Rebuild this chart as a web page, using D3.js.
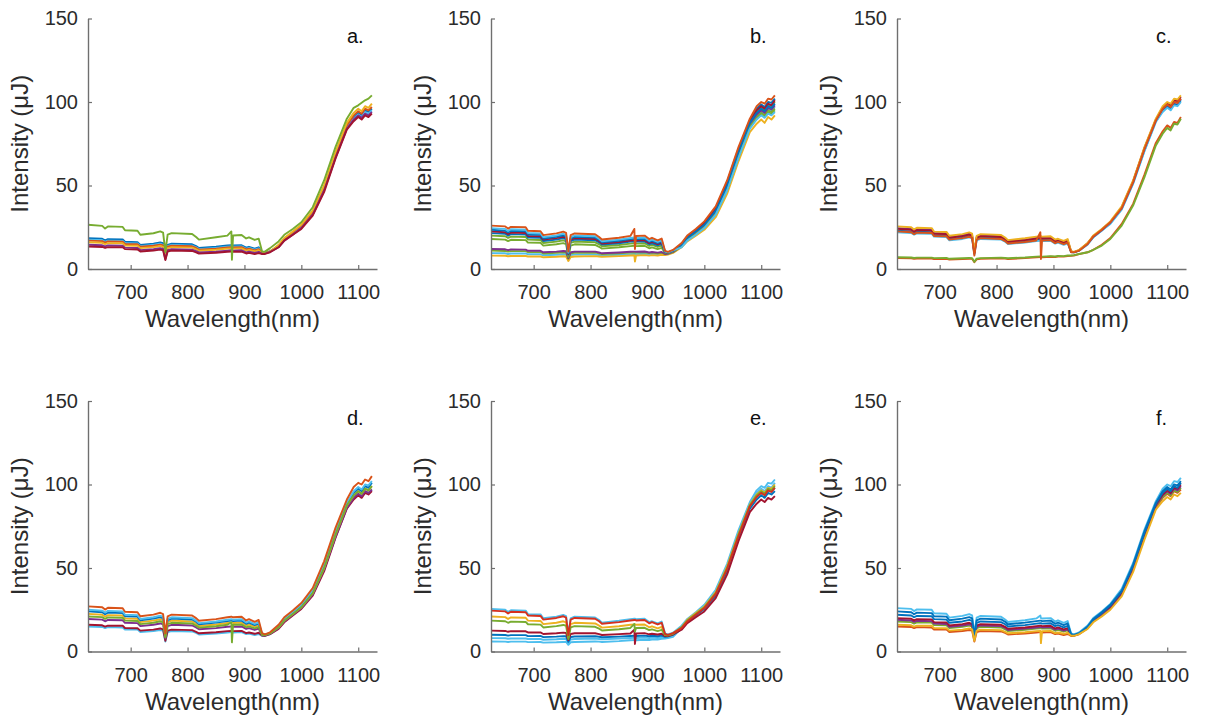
<!DOCTYPE html>
<html>
<head>
<meta charset="utf-8">
<script src="https://cdn.jsdelivr.net/npm/d3@7"></script>
<style>
  body { margin: 0; background: #fff; }
  svg { display: block; }
</style>
</head>
<body>
<svg id="chart" width="1205" height="723"></svg>
<script>
// Sampling wavelengths (nm) shared by every spectrum
const wavelengths = [625, 650, 655, 660, 686, 690, 712, 717, 740, 752, 757, 761, 765, 772, 808, 815, 820, 850, 870, 877,
  878, 880, 895, 903, 908, 918, 925, 931, 936, 945, 960, 970, 985, 1000, 1020, 1040, 1060, 1080, 1092, 1100,
  1106, 1112, 1118, 1124];

const xTicks = [700, 800, 900, 1000, 1100];
const yTicks = [0, 50, 100, 150];
const panelLabels = ["a.", "b.", "c.", "d.", "e.", "f."];

// ---- Panel a ----
const a1 = [18.5,18.1,17.2,17.9,17.7,16.3,16.1,14.4,15.2,15.9,15.4,7.4,14.4,15.2,14.8,13.7,12.6,13.3,14.1,14.2,14.2,14.1,14.2,12.8,13.3,12.2,13.0,9.8, 9.6,10.6, 13.5,17.5,21.5,25.5,33.5,48,68,85.5,91,93.5,92,95,94,96];
const a2 = [17,16.7,15.8,16.5,16.3,15.0,14.8,13.3,13.9,14.6,14.1,6.8,13.3,13.9,13.6,12.6,11.6,12.2,12.9,13.1,13.1,12.9,13.1,11.7,12.1,11.2,11.9,9.6, 9.5,10.5, 14,18,22,26,34,49,68.5,86,92,94.5,93,96,95,97];
const a3 = [16,15.7,14.9,15.5,15.4,14.1,13.9,12.5,13.1,13.8,13.3,6.4,12.5,13.1,12.8,11.8,10.9,11.5,12.2,12.3,12.3,12.2,12.3,11.0,11.4,10.6,11.2,9.5, 9.4,10.4, 14.5,18.5,22.5,26.5,35,50,70,87.5,93.5,96,94.5,97.5,96.5,99];
const a4 = [14.5,14.2,13.5,14.1,13.9,12.8,12.6,11.3,11.9,12.5,12.0,5.8,11.3,11.9,11.6,10.7,9.9,10.4,11.0,11.2,11.2,11.0,11.2,10.0,10.4,9.6,10.2,9.2, 9.2,10.2, 13,17,20.5,24.5,32.5,47,66.5,84,89.5,92,90.5,93,92,94];
const a5 = [26.5,25.8,24.2,25.5,25.2,23.2,22.9,20.5,21.4,22.5,21.8,10.2,20.6,21.5,21.0,19.2,17.6,19.0,20.0,22.5,5.5,20.1,20.4,18.3,19.0,17.4,18.2,10.5, 10.4,12.5, 16.5,20.5,24,28,37,53,73,90,96.5,98,99.5,101,102,104];
const a6 = [17.5,17.2,16.3,17.0,16.8,15.4,15.3,13.7,14.4,15.1,14.5,7.0,13.7,14.4,14.0,13.0,11.9,12.6,13.3,13.5,13.5,13.3,13.5,12.1,12.6,11.6,12.3,9.7, 9.6,10.6, 13.5,17.5,21,25,33,47.5,67,85,90,92.5,91,94,93,95];
const a7 = [13.5,13.2,12.6,13.1,13.0,11.9,11.7,10.5,11.1,11.6,11.2,5.4,10.5,11.1,10.8,10.0,9.2,9.7,10.3,10.4,10.4,10.3,10.4,9.3,9.7,8.9,9.5,9.0, 9.0,10.0, 13,17,20.5,24,32,46,66,83.5,88.5,91,89.5,92,91,93];

// ---- Panel b ----
const b1 = [23.5,23.0,21.9,22.8,22.6,20.7,20.5,18.3,19.3,20.2,19.5,9.4,18.3,19.3,18.8,17.4,16.0,16.9,17.9,18.1,18.1,17.9,18.1,16.3,16.9,15.5,16.5,10.3, 10.0,11.0, 14.5,18.5,22.5,26.5,35,50,70,87.5,93.5,96,94.5,97.5,96.5,99];
const b2 = [26,25.5,24.2,25.2,25.0,22.9,22.6,20.3,21.3,22.4,21.6,10.4,20.3,21.3,20.8,19.2,17.7,18.7,19.8,24.0,12.0,19.8,20.0,17.9,18.7,17.2,18.2,10.8, 10.2,11.4, 15.5,20,24,28.5,37.5,53,73,90,97.5,100,99,102,101.5,104];
const b3 = [8,7.9,7.6,7.8,7.8,7.5,7.5,7.0,7.3,7.6,7.5,4.8,7.2,7.5,7.7,7.5,7.3,7.7,8.1,8.2,4.5,8.1,8.3,8.0,8.3,8.1,8.5,8.4, 8.6,9.6, 13,16.5,20,23.5,31,45,64.5,82,87,89.5,87.5,91,89.5,92];
const b4 = [12,11.8,11.3,11.7,11.6,10.9,10.9,10.0,10.4,10.8,10.6,6.5,10.0,10.4,10.4,9.9,9.4,9.9,10.3,10.4,10.4,10.3,10.5,9.9,10.2,9.8,10.2,9.0, 9.2,10.2, 14,18,22,26,34.5,49.5,69,87,92.5,95,93.5,96.5,95.5,98];
const b5 = [20,19.6,18.6,19.4,19.2,17.6,17.4,15.6,16.4,17.2,16.6,8.0,15.6,16.4,16.0,14.8,13.6,14.4,15.2,15.4,15.4,15.2,15.4,13.8,14.4,13.2,14.0,10.0, 9.7,10.8, 14.5,19,23,27,35.5,51,70.5,88,94,96.5,95,98,97.5,100];
const b6 = [24.5,24.0,22.8,23.8,23.5,21.6,21.3,19.1,20.1,21.1,20.3,9.8,19.1,20.1,19.6,18.1,16.6,17.6,18.6,18.9,18.9,18.6,18.9,16.9,17.6,16.2,17.2,10.5, 10.0,11.2, 13,17,20.5,24.5,32.5,47,66.5,84,89.5,92,90.5,93,92,94];
const b7 = [22.5,22.0,20.9,21.8,21.6,19.8,19.6,17.6,18.5,19.3,18.7,9.0,17.6,18.5,18.0,16.7,15.3,16.2,17.1,17.3,17.3,17.1,17.3,15.5,16.2,14.9,15.8,10.2, 9.9,11.0, 15,19,23,27.5,36,51.5,71,88.5,95,97.5,96,99,98,101];
const b8 = [21.5,21.1,20.0,20.9,20.6,18.9,18.7,16.8,17.6,18.5,17.8,8.6,16.8,17.6,17.2,15.9,14.6,15.4,16.4,16.5,16.5,16.4,16.5,14.8,15.4,14.2,15.0,10.1, 9.8,10.9, 15,19.5,23.5,28,36.5,52,72,89,96,98.5,97,100,99.5,102];
const b9 = [11,10.8,10.4,10.7,10.7,10.1,10.1,9.3,9.7,10.0,9.9,6.2,9.4,9.7,9.8,9.4,9.0,9.4,9.8,9.9,9.9,9.8,10.0,9.5,9.8,9.4,9.8,8.9, 9.1,10.1, 13.5,17.5,21.5,25.5,33.5,48,68,85.5,91,93.5,92,95,94,96];
const b10 = [9.5,9.4,9.0,9.3,9.3,8.8,8.8,8.2,8.5,8.8,8.7,5.6,8.3,8.6,8.7,8.4,8.1,8.5,8.9,9.0,9.0,8.9,9.1,8.7,9.0,8.7,9.1,8.7, 8.9,9.9, 14,18,22,26,34,49,68.5,86,92,94.5,93,96,95,97];
const b11 = [18,17.6,16.7,17.5,17.3,15.8,15.7,14.0,14.8,15.5,14.9,7.2,14.0,14.8,14.4,13.3,12.2,13.0,13.7,13.9,13.9,13.7,13.9,12.4,13.0,11.9,12.6,9.8, 9.6,10.6, 13.5,17.5,21,25,33,47.5,67,85,90,92.5,91,94,93,95];

// ---- Panel c ----
const c1 = [23,22.5,21.4,22.3,22.1,20.2,20.0,17.9,18.9,19.8,19.1,9.2,17.9,18.9,18.4,17.0,15.6,16.6,17.5,17.7,17.7,17.5,17.7,15.9,16.6,15.2,16.1,10.2, 10.0,11.0, 15,19,23,27.5,36,51.5,71,88.5,95,97.5,96,99,98,101];
const c2 = [22.5,22.0,20.9,21.8,21.6,19.8,19.6,17.6,18.5,19.3,18.7,8.0,17.6,18.5,18.0,16.7,15.3,16.2,17.1,22.0,6.0,17.1,17.3,15.5,16.2,14.9,15.8,10.0, 10.0,11.0, 15,19.5,23.5,28,36.5,52,72,89,96,98.5,97,100,99.5,102];
const c3 = [25.5,25.0,23.7,24.7,24.5,22.4,22.2,19.9,20.9,21.9,21.2,10.2,19.9,20.9,20.4,18.9,17.3,18.4,19.4,19.6,19.6,19.4,19.6,17.6,18.1,16.8,17.9,10.7, 10.2,11.4, 15.5,20,24,28.5,37.5,53,73,90,97.5,100,99,102,101.5,104];
const c4 = [24.5,24.0,22.8,23.8,23.5,21.6,21.3,19.1,20.1,21.1,20.3,9.8,19.1,20.1,19.6,18.1,16.6,17.6,18.6,18.9,18.9,18.6,18.9,16.9,17.6,16.2,17.2,10.5, 10.1,11.2, 15,19.5,23.5,28,36.5,52,72,89,96,98.5,97,100,99.5,102];
const c5 = [7,6.9,6.6,6.8,6.8,6.5,6.6,6.1,6.4,6.6,6.5,4.3,6.2,6.5,6.8,6.6,6.4,6.9,7.4,7.5,7.5,7.4,7.7,7.5,7.8,7.7,8.1,8.1, 8.3,9.0, 10,11.5,14,18,26,38,55,74,81,84.5,83,87,86.5,90];
const c6 = [22,21.6,20.5,21.3,21.1,19.4,19.1,17.2,18.0,18.9,18.3,8.8,17.2,18.0,17.6,16.3,15.0,15.8,16.7,16.9,16.9,16.7,16.9,15.2,15.8,14.5,15.4,10.1, 9.9,10.9, 14.5,19,23,27,35.5,51,70.5,88,94,96.5,95,98,97.5,100];
const c7 = [6.5,6.4,6.1,6.3,6.3,6.0,6.1,5.7,5.9,6.1,6.1,4.1,5.8,6.1,6.4,6.2,6.0,6.5,7.0,7.1,7.1,7.0,7.3,7.2,7.5,7.4,7.8,7.9, 8.1,8.9, 10,11.5,14.5,18.5,27,39,56.5,75.5,82.5,86,84.5,88,87.5,91];
const c8 = [24,23.5,22.3,23.3,23.0,21.1,20.9,18.7,19.7,20.6,19.9,9.6,18.7,19.7,19.2,17.8,16.3,17.3,18.2,18.5,18.5,18.2,18.5,16.6,17.3,15.8,16.8,10.4, 10.1,11.2, 15.5,19.5,23.5,28,37,52.5,72.5,89.5,96.5,99,98,101,100.5,103];

// ---- Panel d ----
const dd1 = [24,23.5,22.3,23.3,23.0,21.1,20.9,18.7,19.7,20.6,19.9,9.6,18.7,19.7,19.2,17.8,16.3,17.3,18.2,18.5,18.5,18.2,18.5,16.6,17.3,15.8,16.8,10.4, 10.0,11.0, 15,19,23,27.5,36,51.5,71,88.5,95,97.5,96,99,98,101];
const dd2 = [27,26.5,25.1,26.2,25.9,23.8,23.5,21.1,22.1,23.2,22.4,10.8,21.1,22.1,21.6,20.0,18.4,19.4,20.5,20.8,20.8,20.5,20.8,18.6,19.4,17.8,18.9,11.0, 10.3,11.5, 16,20.5,24.5,29,38,54,74,91,98.5,101,100,103,102,105];
const dd3 = [22.5,22.0,20.9,21.8,21.6,19.8,19.6,17.6,18.5,19.3,18.7,9.0,17.6,18.5,18.0,16.7,15.3,16.2,17.1,17.3,17.3,17.1,17.3,15.5,16.2,14.9,15.8,10.2, 9.9,11.0, 14.5,18.5,22.5,26.5,35,50,70,87.5,93.5,96,94.5,97.5,96.5,99];
const dd4 = [19.5,19.1,18.1,18.9,18.7,17.2,17.0,15.2,16.0,16.8,16.2,7.8,15.2,16.0,15.6,14.4,13.3,14.0,14.8,15.0,15.0,14.8,15.0,13.5,14.0,12.9,13.7,9.9, 9.7,10.7, 14,18,22,26,34,49,68.5,86,92,94.5,93,96,95,97];
const dd5 = [21,20.6,19.5,20.4,20.2,18.5,18.3,16.4,17.2,18.1,17.4,8.4,16.4,17.2,16.8,15.5,14.3,15.1,16.0,17.5,5.5,16.0,16.2,14.5,15.1,13.9,14.7,10.0, 9.8,10.8, 14.5,18.5,22.5,26.5,35,50,70,87.5,93.5,96,94.5,97.5,96.5,99];
const dd6 = [25,24.5,23.3,24.3,24.0,22.0,21.8,19.5,20.5,21.5,20.8,10.0,19.5,20.5,20.0,18.5,17.0,18.0,19.0,19.3,19.3,19.0,19.3,17.3,18.0,16.5,17.5,10.6, 10.1,11.2, 15,19.5,23.5,28,36.5,52,72,89,96,98.5,97,100,99.5,102];
const dd7 = [16,15.7,14.9,15.5,15.4,14.1,13.9,12.5,13.1,13.8,13.3,6.4,12.5,13.1,12.8,11.8,10.9,11.5,12.2,12.3,12.3,12.2,12.3,11.0,11.4,10.6,11.2,9.5, 9.4,10.4, 13.5,17.5,21.5,25.5,33.5,48,68,85.5,91,93.5,92,95,94,96];
const dd8 = [15,14.7,14.0,14.6,14.4,13.2,13.1,11.7,12.3,12.9,12.5,6.0,11.7,12.3,12.0,11.1,10.2,10.8,11.4,11.6,11.6,11.4,11.6,10.4,10.8,9.9,10.5,9.3, 9.3,10.3, 14,18,22,26,34,49,68.5,86,92,94.5,93,96,95,97];

// ---- Panel e ----
const e1 = [25.5,25.0,23.7,24.7,24.5,22.4,22.2,19.9,20.9,21.9,21.2,10.2,19.9,20.9,20.4,18.9,17.3,18.4,19.4,19.6,19.6,19.4,19.6,17.6,18.1,16.8,17.9,10.7, 10.2,11.3, 15.5,19.5,23.5,28,37,52.5,72.5,89.5,96.5,99,98,101,100.5,103];
const e2 = [24.5,24.0,22.8,23.8,23.5,21.6,21.3,19.1,20.1,21.1,20.3,9.8,19.1,20.1,19.6,18.1,16.6,17.6,18.6,18.9,18.9,18.6,18.9,16.9,17.6,16.2,17.2,10.5, 10.0,11.0, 14,18,22,26,34.5,49.5,69,87,92.5,95,93.5,96.5,95.5,98];
const e3 = [21,20.6,19.5,20.4,20.2,18.5,18.3,16.4,17.2,18.1,17.4,8.4,16.4,17.2,16.8,15.5,14.3,15.1,16.0,16.2,16.2,16.0,16.2,14.5,15.1,13.9,14.7,10.0, 9.8,10.9, 14.5,19,23,27,35.5,51,70.5,88,94,96.5,95,98,97.5,100];
const e4 = [18.5,18.1,17.2,17.9,17.7,16.3,16.1,14.4,15.2,15.9,15.4,7.4,14.4,15.2,14.8,13.7,12.6,13.3,14.1,16.5,12.0,14.1,14.2,12.8,13.3,12.2,13.0,9.8, 9.6,10.6, 14.5,18.5,22.5,26.5,35,50,70,87.5,93.5,96,94.5,97.5,96.5,99];
const e5 = [12.5,12.3,11.8,12.2,12.1,11.4,11.4,10.5,10.9,11.3,11.1,6.8,10.5,10.9,10.9,10.4,9.9,10.4,10.8,13.0,4.5,10.8,11.0,10.3,10.6,10.2,10.6,9.2, 9.3,10.2, 13,17,20.5,24,32,46,66,83.5,88.5,91,89.5,92,91,93];
const e6 = [10,9.9,9.5,9.8,9.8,9.2,9.3,8.6,8.9,9.2,9.1,5.8,8.7,9.0,9.1,8.8,8.5,8.9,9.3,9.4,9.4,9.3,9.5,9.1,9.4,9.1,9.5,8.8, 9.0,10.0, 13.5,17.5,21.5,25.5,33.5,48,68,85.5,91,93.5,92,95,94,96];
const e7 = [8,7.9,7.6,7.8,7.8,7.5,7.5,7.0,7.3,7.6,7.5,4.8,7.2,7.5,7.7,7.5,7.3,7.7,8.1,8.2,8.2,8.1,8.3,8.0,8.3,8.1,8.5,8.4, 8.6,9.6, 14.5,18.5,22.5,27,35.5,51,71,88.5,95,97.5,96,99,98,101];
const e8 = [6,5.9,5.7,5.9,5.9,5.6,5.7,5.3,5.5,5.7,5.7,4.0,5.5,5.7,6.0,5.9,5.7,6.2,6.7,6.8,6.8,6.7,7.0,6.9,7.2,7.2,7.6,7.8, 8.0,8.8, 14,18,22,26,34.5,49.5,69,87,92.5,95,93.5,96.5,95.5,98];

// ---- Panel f ----
const f1 = [24,23.5,22.3,23.3,23.0,21.1,20.9,18.7,19.7,20.6,19.9,9.6,18.7,19.7,19.2,17.8,16.3,17.3,18.2,18.5,18.5,18.2,18.5,16.6,17.3,15.8,16.8,10.4, 10.0,11.0, 15,19.5,23.5,28,36.5,52,72,89,96,98.5,97,100,99.5,102];
const f2 = [15,14.7,14.0,14.6,14.4,13.2,13.1,11.7,12.3,12.9,12.5,6.0,11.7,12.3,12.0,11.1,10.2,10.8,11.4,11.6,11.6,11.4,11.6,10.4,10.8,9.9,10.5,9.3, 9.3,10.3, 14,18,22,26,34,49,68.5,86,92,94.5,93,96,95,97];
const f3 = [16,15.7,14.9,15.5,15.4,14.1,13.9,12.5,13.1,13.8,13.3,6.4,12.5,13.1,12.8,11.8,10.9,11.5,12.2,12.3,5.0,12.2,12.3,11.0,11.4,10.6,11.2,9.5, 9.4,10.4, 13.5,17.5,21,25,33,47.5,67,85,90,92.5,91,94,93,95];
const f4 = [19,18.6,17.7,18.4,18.2,16.7,16.5,14.8,15.6,16.3,15.8,7.6,14.8,15.6,15.2,14.1,12.9,13.7,14.4,14.6,14.6,14.4,14.6,13.1,13.7,12.5,13.3,9.9, 9.7,10.7, 14.5,18.5,22.5,26.5,35,50,70,87.5,93.5,96,94.5,97.5,96.5,99];
const f5 = [18,17.6,16.7,17.5,17.3,15.8,15.7,14.0,14.8,15.5,14.9,7.2,14.0,14.8,14.4,13.3,12.2,13.0,13.7,13.9,13.9,13.7,13.9,12.4,13.0,11.9,12.6,9.8, 9.6,10.6, 14,18,22,26,34.5,49.5,69,87,92.5,95,93.5,96.5,95.5,98];
const f6 = [26,25.5,24.2,25.2,25.0,22.9,22.6,20.3,21.3,22.4,21.6,10.4,20.3,21.3,20.8,19.2,17.7,18.7,19.8,21.5,20.0,19.8,20.0,17.9,18.7,17.2,18.2,10.8, 10.2,11.4, 15.5,20,24,28.5,37.5,53,73,90,97.5,100,99,102,101.5,104];
const f7 = [20,19.6,18.6,19.4,19.2,17.6,17.4,15.6,16.4,17.2,16.6,8.0,15.6,16.4,16.0,14.8,13.6,14.4,15.2,15.4,15.4,15.2,15.4,13.8,14.4,13.2,14.0,10.0, 9.7,10.8, 14.5,19,23,27,35.5,51,70.5,88,94,96.5,95,98,97.5,100];
const f8 = [22,21.6,20.5,21.3,21.1,19.4,19.1,17.2,18.0,18.9,18.3,8.8,17.2,18.0,17.6,16.3,15.0,15.8,16.7,16.9,16.9,16.7,16.9,15.2,15.8,14.5,15.4,10.1, 9.9,10.9, 15,19,23,27.5,36,51.5,71,88.5,95,97.5,96,99,98,101];

// Series per panel, in drawing order (later ones sit on top)
const panelSeries = [
  [a1, a6, a2, a3, a4, a7, a5],
  [b10, b3, b9, b4, b11, b5, b8, b7, b1, b6, b2],
  [c1, c6, c4, c8, c3, c7, c5, c2],
  [dd8, dd7, dd4, dd3, dd1, dd6, dd5, dd2],
  [e8, e7, e6, e5, e1, e3, e4, e2],
  [f2, f5, f4, f7, f8, f6, f1, f3]
];

// MATLAB-style line colours matching the series order above
const BLUE = "#0072BD", ORANGE = "#D95319", YELLOW = "#EDB120", PURPLE = "#7E2F8E",
      GREEN = "#77AC30", LIGHTBLUE = "#4DBEEE", RED = "#A2142F";
const panelColors = [
  [BLUE, LIGHTBLUE, ORANGE, YELLOW, PURPLE, RED, GREEN],
  [LIGHTBLUE, YELLOW, GREEN, PURPLE, GREEN, GREEN, BLUE, RED, BLUE, LIGHTBLUE, ORANGE],
  [BLUE, LIGHTBLUE, PURPLE, RED, YELLOW, ORANGE, GREEN, ORANGE],
  [LIGHTBLUE, RED, PURPLE, YELLOW, BLUE, LIGHTBLUE, GREEN, ORANGE],
  [LIGHTBLUE, LIGHTBLUE, BLUE, RED, LIGHTBLUE, YELLOW, GREEN, "#D6301E"],
  [ORANGE, GREEN, PURPLE, RED, BLUE, LIGHTBLUE, BLUE, YELLOW]
];

// Layout of the 2 x 3 grid
const lefts = [88, 491, 897];
const tops = [18.5, 401];
const W = 289, H = 250.5;
const FONT = "Liberation Sans, Arial, sans-serif";
const AXIS_COLOR = "#6f6f6f";
const TEXT_COLOR = "#2b2b2b";

const svg = d3.select("#chart").attr("font-family", FONT);

panelSeries.forEach((seriesList, i) => {
  const left = lefts[i % 3];
  const top = tops[Math.floor(i / 3)];
  const g = svg.append("g").attr("transform", `translate(${left},${top})`);

  const x = d3.scaleLinear().domain([625, 1133]).range([0, W]);
  const y = d3.scaleLinear().domain([0, 150]).range([H, 0]);

  const line = d3.line()
    .x(p => x(p[0]))
    .y(p => y(p[1]));

  seriesList.forEach((s, k) => {
    const pts = wavelengths.map((w, j) => [w, s[j]]).filter(p => p[1] != null);
    g.append("path")
      .attr("d", line(pts))
      .attr("fill", "none")
      .attr("stroke", panelColors[i][k])
      .attr("stroke-width", 1.9)
      .attr("stroke-linejoin", "round");
  });

  // Axes (left and bottom only, ticks pointing inward)
  const gy = g.append("g")
    .call(d3.axisLeft(y).tickValues(yTicks).tickSizeInner(-4).tickSizeOuter(0).tickPadding(10).tickFormat(d3.format("d")));
  const gx = g.append("g")
    .attr("transform", `translate(0,${H})`)
    .call(d3.axisBottom(x).tickValues(xTicks).tickSizeInner(-4).tickSizeOuter(0).tickPadding(16).tickFormat(d3.format("d")));

  [gx, gy].forEach(ax => {
    ax.attr("font-family", FONT).attr("font-size", 20);
    ax.select(".domain").attr("stroke", AXIS_COLOR).attr("stroke-width", 1.4);
    ax.selectAll(".tick line").attr("stroke", AXIS_COLOR).attr("stroke-width", 1.2);
    ax.selectAll(".tick text").attr("fill", TEXT_COLOR);
  });

  // Axis titles
  g.append("text")
    .attr("x", W / 2)
    .attr("y", H + 58)
    .attr("text-anchor", "middle")
    .attr("fill", TEXT_COLOR)
    .attr("font-size", 24)
    .text("Wavelength(nm)");

  g.append("text")
    .attr("transform", `translate(-68,${H / 2}) rotate(-90)`)
    .attr("dy", "0.35em")
    .attr("text-anchor", "middle")
    .attr("fill", TEXT_COLOR)
    .attr("font-size", 24)
    .text("Intensity (\u03bcJ)");

  // Panel letter
  g.append("text")
    .attr("x", 259)
    .attr("y", 24)
    .attr("fill", "#111")
    .attr("font-size", 20)
    .text(panelLabels[i]);
});
</script>
</body>
</html>
